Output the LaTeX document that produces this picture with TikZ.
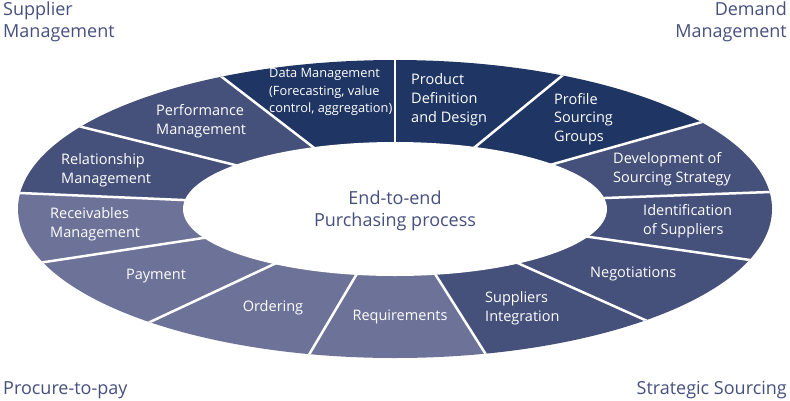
\documentclass[tikz,border=0pt]{standalone}
\usepackage{fontspec}
\setmainfont{Open Sans}
\usetikzlibrary{calc}
\definecolor{ringdark}{HTML}{1F3563}
\definecolor{ringmid}{HTML}{45507B}
\definecolor{ringlight}{HTML}{6D7298}
\definecolor{titleblue}{HTML}{46507E}

\begin{document}
\begin{tikzpicture}[x=1pt,y=-1pt,
        seglabel/.style={text=white, align=left, inner sep=0pt, font=\fontsize{14.5}{18.8}\selectfont},
        cornerlabel/.style={text=titleblue, inner sep=0pt, font=\fontsize{18}{21.5}\selectfont}]
        \useasboundingbox (0,0) rectangle (790,400);
        \coordinate (centre) at (395,209);
        % boundaries between the segments: inner end / outer end
        \foreach \n/\ix/\iy/\ox/\oy in {1/395/143/395/60, 2/475/147/563/75, 3/557/163/702/122,
            4/605/198/770/192, 5/590/237/750/260, 6/522/265/645/320, 7/437/277/485/353,
            8/355/277/310/353, 9/270/266/150/322, 10/203/238/45/262, 11/183/200/20/193,
            12/235/165/82/127, 13/313/147/222/77}{
            \coordinate (in\n) at (\ix,\iy);
            \coordinate (out\n) at (\ox,\oy);
        }
        \begin{scope}
            \clip (centre) ellipse [x radius=377pt, y radius=149pt];
            \foreach \a/\b/\col in {1/2/ringdark, 2/3/ringdark, 3/4/ringmid, 4/5/ringmid,
                5/6/ringmid, 6/7/ringmid, 7/8/ringlight, 8/9/ringlight, 9/10/ringlight,
                10/11/ringlight, 11/12/ringmid, 12/13/ringmid, 13/1/ringdark}{
                \fill[\col] (in\a) -- ($(in\a)!3!(out\a)$) -- ($(in\b)!3!(out\b)$) -- (in\b) -- (centre) -- cycle;
            }
            \foreach \n in {1,...,13}{
                \draw[white, line width=2.5pt] ($(out\n)!1.1!(in\n)$) -- ($(in\n)!3!(out\n)$);
            }
        \end{scope}
        \fill[white] (centre) ellipse [x radius=212pt, y radius=67pt];

        % segment texts
        \node[seglabel, anchor=west, font=\fontsize{12.8}{17.5}\selectfont] (lblData) at (269,92) {Data Management\\(Forecasting, value\\control, aggregation)};
        \node[seglabel, anchor=west] (lblProduct) at (411,100) {Product\\Definition\\and Design};
        \node[seglabel, anchor=west] (lblProfile) at (554,119) {Profile\\Sourcing\\Groups};
        \node[seglabel, anchor=west] (lblStrategy) at (613,169) {Development of\\Sourcing Strategy};
        \node[seglabel, anchor=west] (lblIdent) at (643,221) {Identification\\of Suppliers};
        \node[seglabel, anchor=west] (lblNego) at (590,274) {Negotiations};
        \node[seglabel, anchor=west] (lblIntegr) at (485,308) {Suppliers\\Integration};
        \node[seglabel] (lblReq) at (400,317) {Requirements};
        \node[seglabel] (lblOrder) at (273,308) {Ordering};
        \node[seglabel] (lblPay) at (156,276) {Payment};
        \node[seglabel, anchor=west] (lblRecv) at (50,224) {Receivables\\Management};
        \node[seglabel, anchor=west] (lblRelat) at (61,170) {Relationship\\Management};
        \node[seglabel, anchor=west] (lblPerf) at (156,121) {Performance\\Management};

        \node[cornerlabel, align=center] (lblCentre) at (395,211) {End-to-end\\Purchasing process};
        \node[cornerlabel, align=left, anchor=north west] (lblSupplier) at (3,2) {Supplier\\Management};
        \node[cornerlabel, align=right, anchor=north east] (lblDemand) at (787,2) {Demand\\Management};
        \node[cornerlabel, anchor=west] (lblProcure) at (3,390) {Procure-to-pay};
        \node[cornerlabel, anchor=east] (lblSourcing) at (787,390) {Strategic Sourcing};
    \end{tikzpicture}
\end{document}
